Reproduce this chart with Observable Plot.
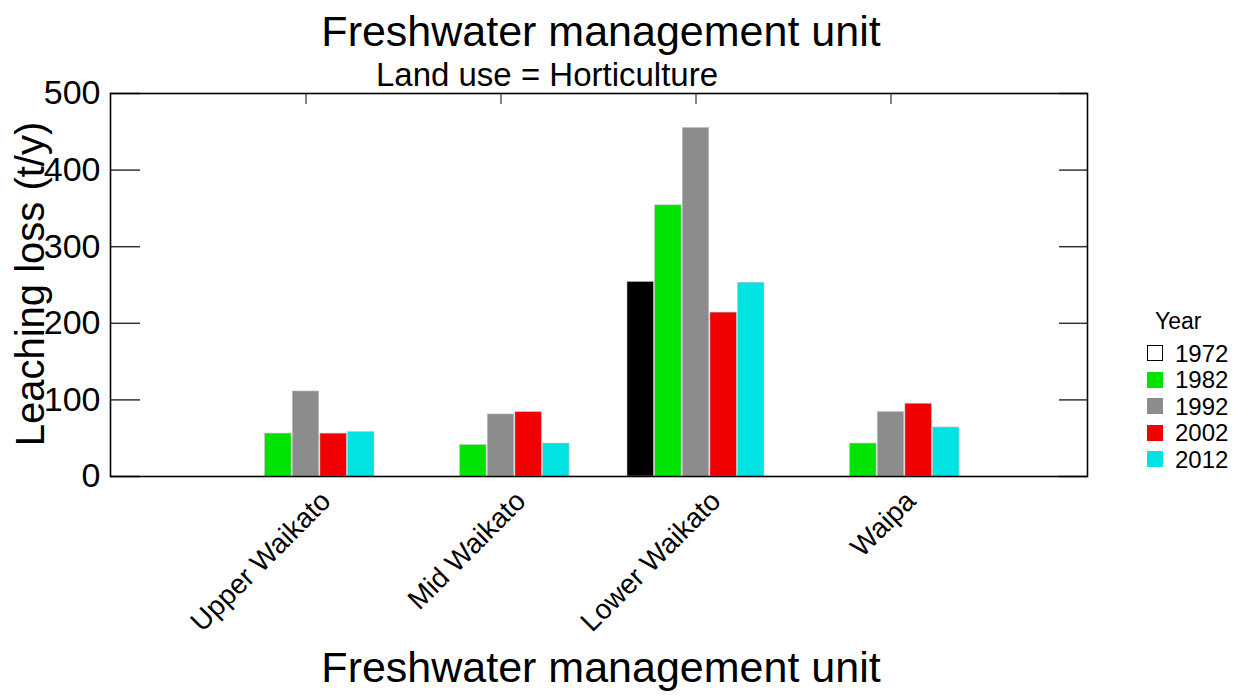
<!DOCTYPE html>
<html><head><meta charset="utf-8">
<script src="https://cdn.jsdelivr.net/npm/d3@7"></script>
<script src="https://cdn.jsdelivr.net/npm/@observablehq/plot@0.6"></script>
<style>
body{margin:0;background:#fff;font-family:"Liberation Sans",Arial,sans-serif;}
#wrap{position:relative;width:1240px;height:697px;overflow:hidden;}
#wrap svg{position:absolute;left:0;top:0;}
.t{position:absolute;white-space:nowrap;color:#000;font-family:"Liberation Sans",Arial,sans-serif;}
.sw{position:absolute;box-sizing:border-box;}
</style></head><body><div id="wrap"></div>
<script>
// ---- data ----
const units = ["Upper Waikato", "Mid Waikato", "Lower Waikato", "Waipa"];
const years = ["1972", "1982", "1992", "2002", "2012"];
const yearColors = ["#000000", "#00e300", "#8c8c8c", "#f00000", "#00e3e3"];
const legendFills = ["#ffffff", "#00e300", "#8c8c8c", "#f00000", "#00e3e3"];
const v1972 = [0, 0, 254, 0];
const v1982 = [56, 41, 354, 43];
const v1992 = [111, 81, 455, 84];
const v2002 = [56, 84, 214, 95];
const v2012 = [58, 43, 253, 64];
const yTicks = [0, 100, 200, 300, 400, 500];
const titleText = "Freshwater management unit";
const subtitleText = "Land use = Horticulture";
const xLabel = "Freshwater management unit";
const yLabel = "Leaching loss (t/y)";
const legendTitle = "Year";

const series = [v1972, v1982, v1992, v2002, v2012];
const data = years.flatMap((y, i) => units.map((u, j) => ({unit: u, year: y, value: series[i][j]})));

// ---- layout ----
const W = 1240, H = 697, mL = 110, mR = 153, mT = 93, mB = 221;
const plotW = W - mL - mR, plotH = H - mT - mB;
const pIn = 0.295, pOut = 0.64;
const step = plotW / (units.length - pIn + 2 * pOut);
const bw = step * (1 - pIn);
const barW = bw / years.length;

const barMarks = years.map((yr, i) => Plot.barY(data.filter(d => d.year === yr), {
  x: "unit", y: "value", fill: "year",
  insetLeft: i * barW, insetRight: (years.length - 1 - i) * barW,
  stroke: "#c0c0c0", strokeWidth: 0.6
}));

const chart = Plot.plot({
  width: W, height: H,
  marginLeft: mL, marginRight: mR, marginTop: mT, marginBottom: mB,
  style: {fontFamily: "Liberation Sans, Arial, sans-serif", background: "transparent", color: "#000"},
  x: {domain: units, paddingInner: pIn, paddingOuter: pOut, axis: null},
  y: {domain: [0, 500], axis: null},
  color: {domain: years, range: yearColors},
  marks: [
    ...barMarks,
    Plot.ruleY(yTicks, {y: d => d, insetRight: plotW - 30, stroke: "#333", strokeWidth: 1.5}),
    Plot.ruleY(yTicks, {y: d => d, insetLeft: plotW - 28, stroke: "#333", strokeWidth: 1.5}),
    Plot.ruleX(units, {x: d => d, insetBottom: plotH - 11, stroke: "#333", strokeWidth: 1.2}),
    Plot.axisY(yTicks, {anchor: "left", tickSize: 0, tickPadding: 10, fontSize: 34, label: null}),
    Plot.axisX({tickRotate: -45, tickSize: 0, tickPadding: 20, dx: 20, fontSize: 28, label: null}),
    Plot.frame({stroke: "#000", strokeWidth: 1.6}),
    Plot.text([titleText], {text: d => d, frameAnchor: "top", lineAnchor: "bottom", dx: 2, dy: -48, fontSize: 43}),
    Plot.text([subtitleText], {text: d => d, frameAnchor: "top", lineAnchor: "bottom", dx: -52, dy: -8, fontSize: 33}),
    Plot.text([xLabel], {text: d => d, frameAnchor: "bottom", lineAnchor: "bottom", dx: 2, dy: 205, fontSize: 43}),
    Plot.text([yLabel], {text: d => d, frameAnchor: "left", textAnchor: "middle", lineAnchor: "bottom", rotate: -90, dx: -67, dy: -1, fontSize: 40})
  ]
});

const wrap = document.getElementById("wrap");
wrap.appendChild(chart);

// ---- legend ----
function addText(txt, left, baseline, size) {
  const el = document.createElement("div");
  el.className = "t";
  el.textContent = txt;
  el.style.fontSize = size + "px";
  el.style.lineHeight = size + "px";
  el.style.left = left + "px";
  el.style.top = (baseline - ((size - 1.117 * size) / 2 + 0.905 * size)) + "px";
  wrap.appendChild(el);
}
addText(legendTitle, 1155, 329, 23);
years.forEach((yr, i) => {
  const rowY = 362 + i * 26.5;
  const sw = document.createElement("div");
  sw.className = "sw";
  sw.style.left = "1147px";
  sw.style.top = (rowY - 17) + "px";
  sw.style.width = "16px";
  sw.style.height = "16px";
  sw.style.background = legendFills[i];
  if (i === 0) sw.style.border = "1.2px solid #000";
  wrap.appendChild(sw);
  addText(yr, 1175, rowY, 24);
});
</script></body></html>
